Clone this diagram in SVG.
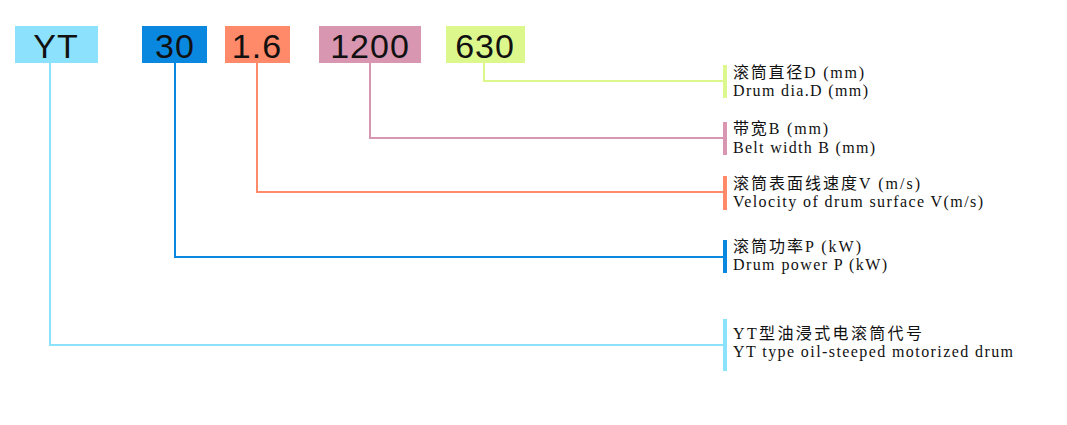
<svg xmlns="http://www.w3.org/2000/svg" width="1067" height="425" viewBox="0 0 1067 425">
<style>
.code{font-family:"Liberation Sans",Arial,sans-serif;font-size:34px;fill:#111;text-anchor:middle;letter-spacing:1px}
.zh{font-family:"Liberation Serif","Noto Sans CJK SC",serif;font-size:16px;fill:#111}
.en{font-family:"Liberation Serif",serif;font-size:16px;fill:#111}
.ln{fill:none;stroke-width:2}
</style>
<rect width="1067" height="425" fill="#fff"/>
<g id="connectors">
<polyline class="ln" stroke="#dcf78c" points="484,63 484,81 724,81"/>
<polyline class="ln" stroke="#d896b0" points="370,63 370,138 724,138"/>
<polyline class="ln" stroke="#ff8a6a" points="257,63 257,192 724,192"/>
<polyline class="ln" stroke="#0a88e0" points="175,63 175,257 724,257"/>
<polyline class="ln" stroke="#8ce2fd" points="50,63 50,345 724,345"/>
</g>
<g id="node-yt"><rect x="15" y="26" width="83" height="37" fill="#8ce2fd"/><text class="code" x="56" y="58">YT</text></g>
<g id="node-30"><rect x="142" y="26" width="65" height="37" fill="#0a88e0"/><text class="code" x="175" y="58">30</text></g>
<g id="node-16"><rect x="225" y="26" width="65" height="37" fill="#ff8a6a"/><text class="code" x="257" y="58">1.6</text></g>
<g id="node-1200"><rect x="319" y="26" width="102" height="37" fill="#d896b0"/><text class="code" x="370" y="58">1200</text></g>
<g id="node-630"><rect x="446" y="26" width="79" height="37" fill="#dcf78c"/><text class="code" x="485" y="58">630</text></g>
<g id="label-d"><rect x="723" y="65" width="4" height="33" fill="#dcf78c"/>
<text class="zh" x="733" y="78" textLength="131" lengthAdjust="spacing">滚筒直径D (mm)</text>
<text class="en" x="733" y="96" textLength="135" lengthAdjust="spacing">Drum dia.D (mm)</text></g>
<g id="label-b"><rect x="723" y="122" width="4" height="33" fill="#d896b0"/>
<text class="zh" x="733" y="134" textLength="95" lengthAdjust="spacing">带宽B (mm)</text>
<text class="en" x="733" y="153" textLength="142" lengthAdjust="spacing">Belt width B (mm)</text></g>
<g id="label-v"><rect x="723" y="176" width="4" height="34" fill="#ff8a6a"/>
<text class="zh" x="733" y="189" textLength="187" lengthAdjust="spacing">滚筒表面线速度V (m/s)</text>
<text class="en" x="733" y="207" textLength="250" lengthAdjust="spacing">Velocity of drum surface V(m/s)</text></g>
<g id="label-p"><rect x="723" y="240" width="4" height="33" fill="#0a88e0"/>
<text class="zh" x="733" y="252" textLength="128" lengthAdjust="spacing">滚筒功率P (kW)</text>
<text class="en" x="733" y="270" textLength="154" lengthAdjust="spacing">Drum power P (kW)</text></g>
<g id="label-yt"><rect x="723" y="319" width="4" height="52" fill="#8ce2fd"/>
<text class="zh" x="733" y="339" textLength="189" lengthAdjust="spacing">YT型油浸式电滚筒代号</text>
<text class="en" x="733" y="357" textLength="280" lengthAdjust="spacing">YT type oil-steeped motorized drum</text></g>
</svg>
